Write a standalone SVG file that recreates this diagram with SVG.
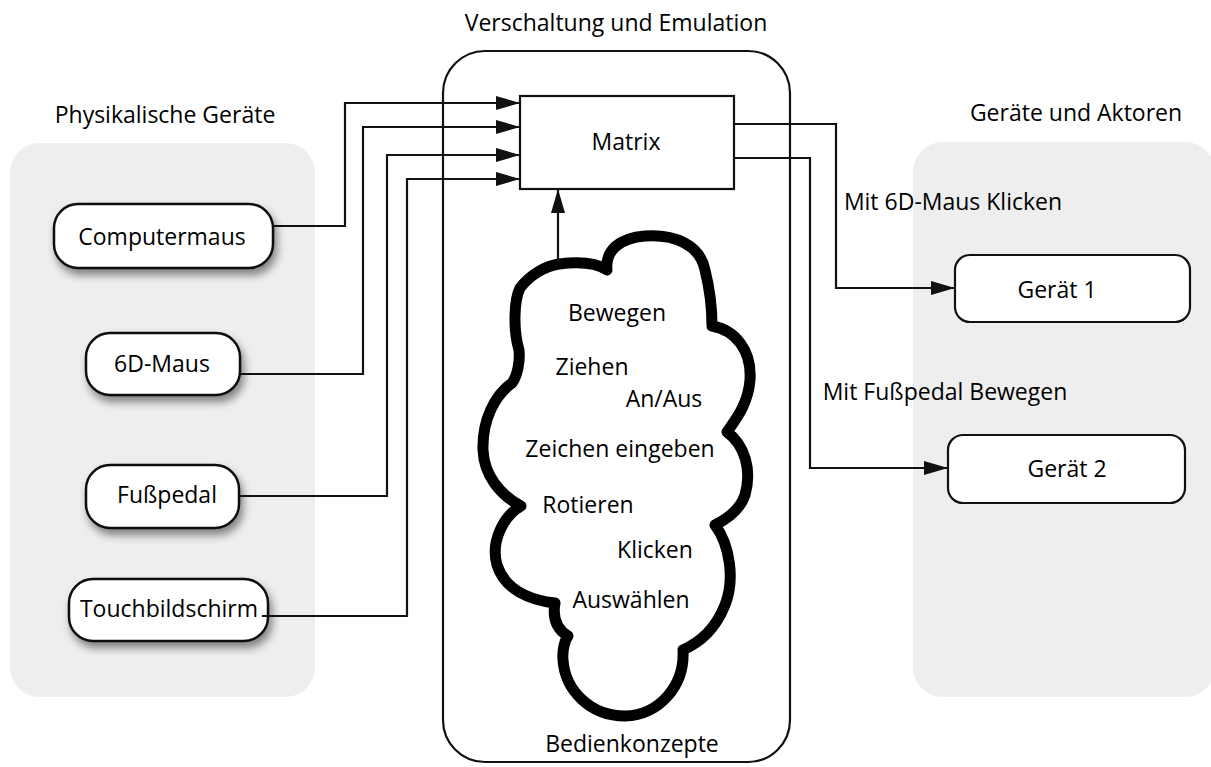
<svg xmlns="http://www.w3.org/2000/svg" width="1211" height="767" viewBox="0 0 1211 767">
  <defs>
    <style>
      text { font-family: "Open Sans", "Noto Sans", "DejaVu Sans", sans-serif; font-size: 23px; fill: #000; text-anchor: middle; }
      .panel { fill: #eeeeee; stroke: none; }
      .device { fill: #ffffff; stroke: #111; stroke-width: 2.5; }
      .box { fill: #ffffff; stroke: #111; stroke-width: 2.2; }
      .arrow { fill: none; stroke: #111; stroke-width: 2.2; marker-end: url(#head); }
      .cloud { fill: #ffffff; stroke: #000; stroke-width: 11; stroke-linejoin: round; }
    </style>
    <marker id="head" markerUnits="userSpaceOnUse" markerWidth="26" markerHeight="16" refX="24" refY="7" orient="auto">
      <path d="M0,0 L24,7 L0,14 Z" fill="#111"/>
    </marker>
    <filter id="shadow" x="-20%" y="-30%" width="150%" height="180%">
      <feDropShadow dx="3" dy="6" stdDeviation="4" flood-color="#000" flood-opacity="0.45"/>
    </filter>
  </defs>

  <rect width="1211" height="767" fill="#ffffff"/>

  <!-- group backgrounds -->
  <g id="physical-devices">
    <rect class="panel" x="10" y="143" width="305" height="554" rx="30"/>
    <text x="165" y="123">Physikalische Geräte</text>
  </g>
  <g id="actuators">
    <rect class="panel" x="913" y="142" width="302" height="555" rx="30"/>
    <text x="1076" y="121">Geräte und Aktoren</text>
  </g>
  <g id="emulation">
    <rect x="443" y="51" width="347" height="711" rx="42" fill="#ffffff" stroke="#111" stroke-width="2.2"/>
    <text x="616" y="31">Verschaltung und Emulation</text>
    <text x="632" y="752">Bedienkonzepte</text>
  </g>

  <!-- matrix -->
  <g id="matrix">
    <rect class="box" x="520" y="96" width="214" height="93"/>
    <text x="626" y="150">Matrix</text>
  </g>

  <!-- cloud of operating concepts -->
  <g id="concepts">
    <path class="cloud" d="M559,264 C575,262 595,262 607,270 C605,250 620,238 645,236 C675,234 700,245 705,270 C710,290 712,310 712,326 C735,330 752,350 750,380 C748,405 735,420 727,432 C745,445 752,470 745,495 C740,510 725,520 715,525 C730,545 735,580 725,605 C715,630 700,642 683,650 C685,685 660,715 625,716 C590,716 565,690 563,660 C562,650 565,640 568,636 C558,630 552,620 555,603 C530,600 505,590 497,565 C490,540 505,515 521,506 C500,495 484,475 483,450 C482,420 495,395 512,383 C518,375 520,360 519,350 C513,330 514,300 520,288 C530,275 545,266 559,264 Z"/>
    <text x="617" y="321">Bewegen</text>
    <text x="592" y="375">Ziehen</text>
    <text x="664" y="407">An/Aus</text>
    <text x="620" y="457">Zeichen eingeben</text>
    <text x="588" y="513">Rotieren</text>
    <text x="655" y="558">Klicken</text>
    <text x="631" y="608">Auswählen</text>
  </g>

  <!-- input devices -->
  <g id="computermaus">
    <rect class="device" x="54" y="204" width="219" height="64" rx="24" filter="url(#shadow)"/>
    <text x="162" y="245">Computermaus</text>
  </g>
  <g id="sechs-d-maus">
    <rect class="device" x="86" y="333" width="154" height="62" rx="24" filter="url(#shadow)"/>
    <text x="162" y="372">6D-Maus</text>
  </g>
  <g id="fusspedal">
    <rect class="device" x="86" y="465" width="153" height="63" rx="24" filter="url(#shadow)"/>
    <text x="167" y="503">Fußpedal</text>
  </g>
  <g id="touchbildschirm">
    <rect class="device" x="69" y="579" width="199" height="62" rx="24" filter="url(#shadow)"/>
    <text x="169" y="617">Touchbildschirm</text>
  </g>

  <!-- output devices -->
  <g id="geraet-1">
    <rect class="box" x="955" y="255" width="235" height="67" rx="15"/>
    <text x="1057" y="298">Gerät 1</text>
  </g>
  <g id="geraet-2">
    <rect class="box" x="948" y="435" width="237" height="68" rx="15"/>
    <text x="1067" y="477">Gerät 2</text>
  </g>

  <!-- connectors (drawn last so the touch-screen wire runs into its box) -->
  <g id="connectors">
    <polyline class="arrow" points="273,226 345,226 345,103 520,103"/>
    <polyline class="arrow" points="240,374 363,374 363,127 520,127"/>
    <polyline class="arrow" points="239,496 387,496 387,155 520,155"/>
    <polyline class="arrow" points="262,616 407,616 407,179 520,179"/>
    <polyline class="arrow" points="558,262 558,189"/>
    <polyline class="arrow" points="734,124 836,124 836,288 955,288"/>
    <polyline class="arrow" points="734,158 810,158 810,468 948,468"/>
    <text x="953" y="210">Mit 6D-Maus Klicken</text>
    <text x="945" y="400">Mit Fußpedal Bewegen</text>
  </g>
</svg>
